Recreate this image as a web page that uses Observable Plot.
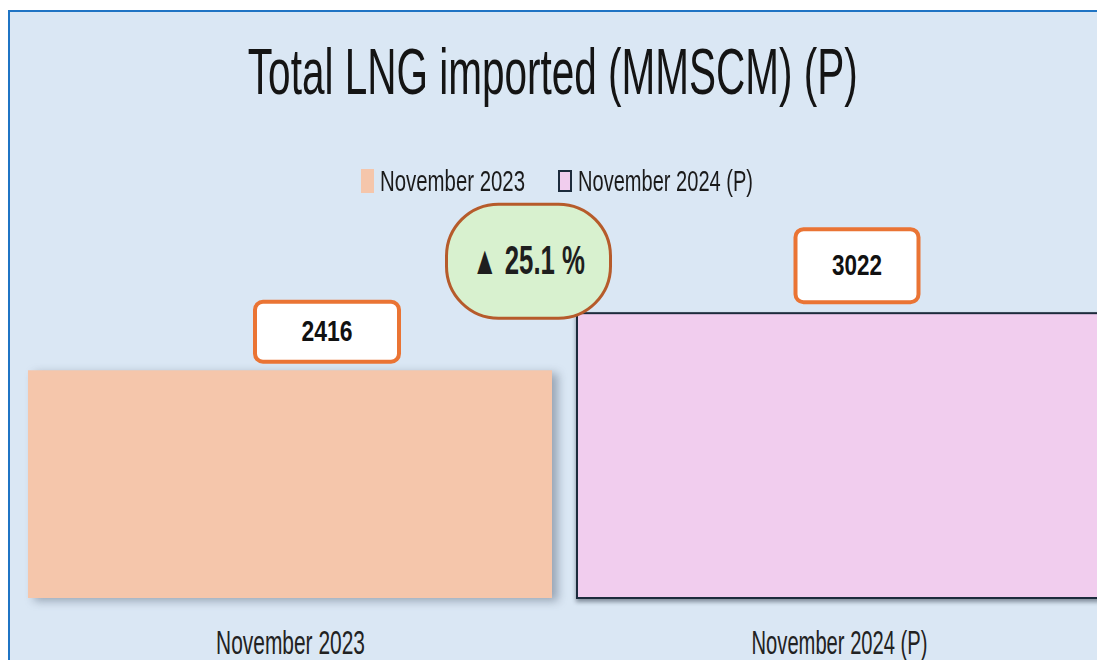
<!DOCTYPE html>
<html>
<head>
<meta charset="utf-8">
<script src="https://cdn.jsdelivr.net/npm/d3@7"></script>
<script src="https://cdn.jsdelivr.net/npm/@observablehq/plot@0.6"></script>
<style>
  html, body { margin: 0; padding: 0; background: #ffffff; }
  #wrap { position: relative; width: 1097px; height: 660px; overflow: hidden; background: #ffffff;
          font-family: "Liberation Sans Narrow", "Liberation Sans", Arial, sans-serif; }
  #panel { position: absolute; left: 8px; top: 10px; width: 1200px; height: 700px; background: #dae7f4;
           border-left: 2px solid #1f74c4; border-top: 2px solid #1f74c4; }
  #title { position: absolute; left: 0; top: 40px; width: 1106px; text-align: center;
           font-size: 64px; line-height: 64px; color: #141414; white-space: nowrap; }
  #title span { display: inline-block; transform-origin: center center; }
  .leg-sw { position: absolute; box-sizing: border-box; }
  .leg-tx { position: absolute; font-size: 29px; line-height: 24px; height: 24px; color: #1a1a1a;
            white-space: nowrap; transform-origin: left center; }
  #chart { position: absolute; left: 0; top: 200px; }
  .bar-a rect { filter: drop-shadow(6px 3px 5px rgba(70, 85, 105, 0.45)); }
  .bar-b rect { filter: drop-shadow(0px 3px 2px rgba(20, 30, 45, 0.45)); }
</style>
</head>
<body>
<div id="wrap">
  <div id="panel"></div>
  <div id="title"><span>Total LNG imported (MMSCM) (P)</span></div>
  <div id="legend"></div>
  <div id="chart"></div>
</div>
<script>
// ---- data ----
const categories = ["November 2023", "November 2024 (P)"];
const values = [2416, 3022];
const titleText = "Total LNG imported (MMSCM) (P)";

// ---- styles ----
const barColors = ["#f5c6ab", "#f1cdee"];
const barStroke = "#1c2b3c";
const labelOrange = "#ea7434";

const data = categories.map((c, i) => ({cat: c, value: values[i]}));
const pct = ((values[1] - values[0]) / values[0] * 100).toFixed(1);

// ---- legend (HTML, above the svg) ----
const legend = document.getElementById("legend");
const legX = [361, 558];
const legTextW = [145, 175];
categories.forEach((c, i) => {
  const sw = document.createElement("div");
  sw.className = "leg-sw";
  sw.style.left = legX[i] + "px";
  sw.style.top = (i === 0 ? 169 : 170) + "px";
  sw.style.width = (i === 0 ? 13 : 14) + "px";
  sw.style.height = (i === 0 ? 24 : 22) + "px";
  sw.style.background = barColors[i];
  if (i === 1) sw.style.border = "2px solid " + barStroke;
  legend.appendChild(sw);
  const tx = document.createElement("span");
  tx.className = "leg-tx";
  tx.textContent = c;
  tx.style.left = (legX[i] + (i === 0 ? 19 : 20)) + "px";
  tx.style.top = "169px";
  legend.appendChild(tx);
});

// ---- plot ----
const chart = Plot.plot({
  width: 1097,
  height: 460,
  marginTop: 21,
  marginBottom: 62,
  marginLeft: 0,
  marginRight: 0,
  style: {background: "transparent", fontFamily: "'Liberation Sans Narrow', 'Liberation Sans', Arial, sans-serif"},
  x: {domain: categories, range: [2, 1127], padding: 0.0455, axis: null},
  y: {domain: [0, 4000], axis: null},
  color: {domain: categories, range: barColors},
  marks: [
    Plot.barY(data.slice(0, 1), {x: "cat", y: "value", fill: "cat", className: "bar-a"}),
    Plot.barY(data.slice(1, 2), {x: "cat", y: "value", fill: "cat", stroke: barStroke, strokeWidth: 2, className: "bar-b"}),
    Plot.axisX({tickSize: 0, tickPadding: 31, fontSize: 34, color: "#222", label: null, className: "xlab"}),
    Plot.text(data.slice(0, 1), {x: "cat", y: "value", text: d => String(d.value), dx: 36.5, dy: -39,
      fontSize: 29, fontWeight: "bold", fill: "#111", lineAnchor: "middle", className: "vlab0"}),
    Plot.text(data.slice(1, 2), {x: "cat", y: "value", text: d => String(d.value), dx: 17.5, dy: -48,
      fontSize: 29, fontWeight: "bold", fill: "#111", lineAnchor: "middle", className: "vlab1"}),
    Plot.text(data.slice(1, 2), {x: "cat", y: "value", text: () => `▲ ${pct} %`, dx: -311, dy: -52.5,
      fontSize: 40, fontWeight: "bold", fill: "#1e1e1e", lineAnchor: "middle", className: "badge"})
  ]
});
document.getElementById("chart").appendChild(chart);

// ---- post-processing: label boxes and condensed text ----
const NS = "http://www.w3.org/2000/svg";
function addBox(cls, w, h, rx, fill, stroke, sw) {
  chart.querySelectorAll(`g.${cls} text`).forEach(t => {
    const r = document.createElementNS(NS, "rect");
    r.setAttribute("transform", t.getAttribute("transform") || "");
    r.setAttribute("x", -w / 2);
    r.setAttribute("y", -h / 2);
    r.setAttribute("width", w);
    r.setAttribute("height", h);
    r.setAttribute("rx", rx);
    r.setAttribute("fill", fill);
    r.setAttribute("stroke", stroke);
    r.setAttribute("stroke-width", sw);
    t.parentNode.insertBefore(r, t);
  });
}
addBox("vlab0", 144, 60, 8, "#ffffff", labelOrange, 4);
addBox("vlab1", 123, 73, 8, "#ffffff", labelOrange, 4);
addBox("badge", 164, 114, 52, "#d8f1cf", "#b65b2b", 3);

function fitSvg(cls, targets) {
  chart.querySelectorAll(`g.${cls} text`).forEach((t, i) => {
    const w = t.getComputedTextLength();
    const target = targets[i % targets.length];
    if (w > 0) t.setAttribute("transform", (t.getAttribute("transform") || "") + ` scale(${target / w},1)`);
  });
}
fitSvg("vlab0", [51]);
fitSvg("vlab1", [50]);
fitSvg("badge", [113]);
fitSvg("xlab", [149, 176]);

// title + legend text
const tspan = document.querySelector("#title span");
tspan.style.transform = `scaleX(${610 / tspan.getBoundingClientRect().width})`;
document.querySelectorAll(".leg-tx").forEach((el, i) => {
  el.style.transform = `scaleX(${legTextW[i] / el.getBoundingClientRect().width})`;
});
</script>
</body>
</html>
